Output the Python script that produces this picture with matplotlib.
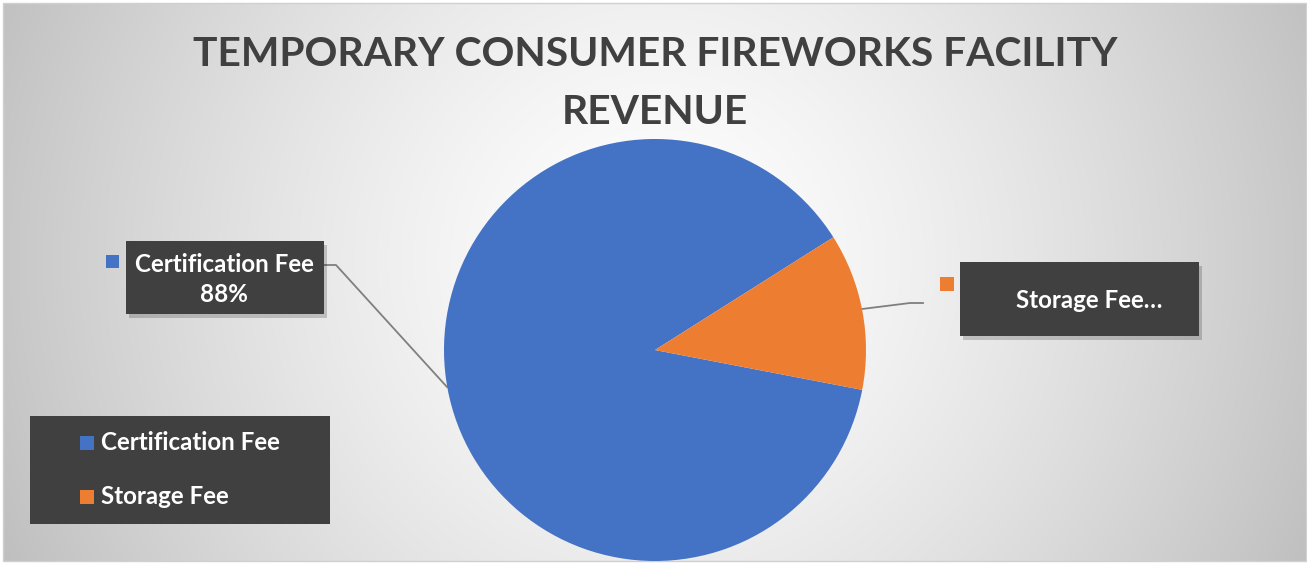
import numpy as np
import matplotlib
matplotlib.use("Agg")
import matplotlib.pyplot as plt
from matplotlib.patches import Rectangle

# data
categories = ["Certification Fee", "Storage Fee"]
shares = [88, 12]
colors = ["#4472C4", "#ED7D31"]
title = "TEMPORARY CONSUMER FIREWORKS FACILITY\nREVENUE"

W, H = 1307, 564
fig = plt.figure(figsize=(W / 100, H / 100), dpi=100)
fig.patch.set_facecolor("white")

# full-figure axes in pixel coords (y down)
bg = fig.add_axes([0, 0, 1, 1])
bg.set_xlim(0, W)
bg.set_ylim(H, 0)
bg.axis("off")

# radial gradient background
xx, yy = np.meshgrid(np.arange(W), np.arange(H))
d = np.hypot(xx - 655, yy - 260) / 720.0
g = 1.0 - 0.25 * np.clip(d, 0, 1) ** 1.4
img = np.dstack([g, g, g])
bg.imshow(img, extent=(3, W - 1, 561, 3), aspect="auto", zorder=0)
bg.add_patch(Rectangle((3, 3), W - 4, 558, fill=False, ec="#d0d0d0", lw=1, zorder=1))

font = ["Lato", "DejaVu Sans"]
dark = "#404040"


def fit(t, width):
    fig.canvas.draw()
    w = t.get_window_extent().width
    t.set_fontsize(t.get_fontsize() * width / w)


# title
t1 = bg.text(655, 55, "TEMPORARY CONSUMER FIREWORKS FACILITY", ha="center", va="center",
             fontsize=30, fontweight="bold", color=dark, family=font, zorder=5)
fit(t1, 925)
bg.text(655, 113, "REVENUE", ha="center", va="center", fontsize=t1.get_fontsize(),
        fontweight="bold", color=dark, family=font, zorder=5)

# pie
r = 211
pax = fig.add_axes([(655 - r) / W, (H - 350 - r) / H, 2 * r / W, 2 * r / H])
pax.pie(shares, colors=colors, startangle=32.3, counterclock=True,
        wedgeprops=dict(linewidth=0))
pax.set_xlim(-1, 1)
pax.set_ylim(-1, 1)
pax.set_aspect("equal")
pax.axis("off")


def box(x0, y0, x1, y1):
    bg.add_patch(Rectangle((x0 + 3, y0 + 4), x1 - x0, y1 - y0, fc="#000000", alpha=0.18,
                           ec="none", zorder=3))
    bg.add_patch(Rectangle((x0, y0), x1 - x0, y1 - y0, fc=dark, ec="none", zorder=4))


# data label: certification
box(126, 241, 324, 314)
bg.add_patch(Rectangle((106, 255), 13, 13, fc=colors[0], ec="none", zorder=4))
lab1 = bg.text(224, 264, categories[0], ha="center", va="center", color="white",
               fontweight="bold", fontsize=16, family=font, zorder=5)
fit(lab1, 180)
bg.text(224, 294, f"{shares[0]}%", ha="center", va="center", color="white",
        fontweight="bold", fontsize=lab1.get_fontsize(), family=font, zorder=5)
bg.plot([324, 336, 447], [265, 265, 387], color="#7f7f7f", lw=1.3, zorder=2)

# data label: storage
box(960, 262, 1199, 336)
bg.add_patch(Rectangle((940, 277), 14, 14, fc=colors[1], ec="none", zorder=4))
bg.text(1089, 300, categories[1] + "\u2026", ha="center", va="center", color="white",
        fontweight="bold", fontsize=lab1.get_fontsize(), family=font, zorder=5)
bg.plot([923, 910, 862], [303, 303, 309], color="#7f7f7f", lw=1.3, zorder=2)

# legend
bg.add_patch(Rectangle((30, 416), 300, 108, fc=dark, ec="none", zorder=4))
for i, (name, c) in enumerate(zip(categories, colors)):
    yc = 443 + i * 54
    bg.add_patch(Rectangle((80, yc - 7), 14, 14, fc=c, ec="none", zorder=5))
    bg.text(101, yc, name, ha="left", va="center", color="white", fontweight="bold",
            fontsize=lab1.get_fontsize(), family=font, zorder=5)

fig.savefig("out.png", dpi=100)
